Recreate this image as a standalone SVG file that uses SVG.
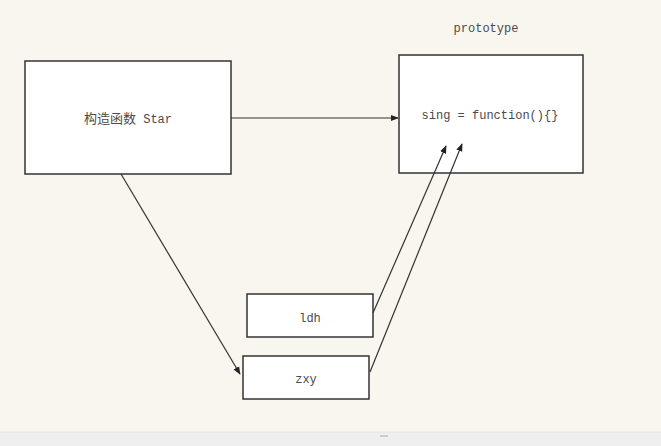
<svg xmlns="http://www.w3.org/2000/svg" width="661" height="446" viewBox="0 0 661 446">
<defs>
<style>
.box{fill:#fff;stroke:#333;stroke-width:1.5}
.t{font-family:"Liberation Mono","Noto Sans CJK SC",monospace;font-size:12px;fill:#4a4a4a;text-anchor:middle}
.c{stroke:#333;stroke-width:1.2;fill:none;marker-end:url(#ah)}
</style>
<marker id="ah" viewBox="0 0 10 10" refX="9" refY="5" markerWidth="8" markerHeight="8" orient="auto" markerUnits="userSpaceOnUse">
<path d="M0,1 L10,5 L0,9 z" fill="#222"/>
</marker>
</defs>
<rect width="661" height="446" fill="#f9f6f0"/>
<rect x="0" y="432" width="661" height="14" fill="#efefef"/>
<line x1="0" y1="432" x2="661" y2="432" stroke="#e4e4e4"/>
<line x1="380" y1="436" x2="388" y2="436" stroke="#aaa"/>
<text class="t" x="486" y="32">prototype</text>
<g id="constructor">
<rect class="box" x="25" y="61" width="206" height="113"/>
<text class="t" x="128" y="123"><tspan font-size="13">构造函数</tspan> Star</text>
</g>
<g id="prototype">
<rect class="box" x="399" y="55" width="184" height="118"/>
<text class="t" x="490" y="119">sing = function(){}</text>
</g>
<g id="ldh">
<rect class="box" x="247" y="294" width="126" height="43"/>
<text class="t" x="310" y="322">ldh</text>
</g>
<g id="zxy">
<rect class="box" x="243" y="356" width="126" height="43"/>
<text class="t" x="306" y="383">zxy</text>
</g>
<g id="connectors">
<line class="c" x1="231" y1="118" x2="398" y2="118"/>
<line class="c" x1="121" y1="174" x2="240" y2="374"/>
<line class="c" x1="373" y1="313" x2="446" y2="146"/>
<line class="c" x1="370" y1="372" x2="462" y2="144"/>
</g>
</svg>
